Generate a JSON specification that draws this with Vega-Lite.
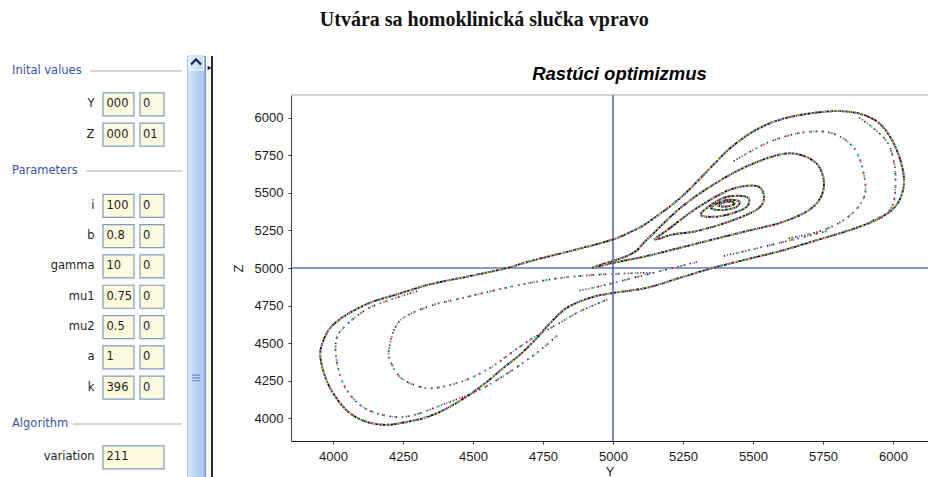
{
  "$schema": "https://vega.github.io/schema/vega-lite/v6.json",
  "background": "white",
  "padding": {"left": 0, "top": 10, "right": 0, "bottom": 0},
  "title": {"text": "Utvára sa homoklinická slučka vpravo", "font": "Liberation Serif", "fontSize": 20, "fontWeight": "bold", "color": "#111111", "anchor": "middle", "frame": "bounds", "dx": 20, "offset": 25},
  "bounds": "flush",
  "spacing": 77,
  "config": {"view": {"stroke": null}},
  "datasets": {
    "form": [
      {"kind": "header", "text": "Inital values", "line": 0},
      {"kind": "field", "label": "Y", "v1": "000", "v2": "0", "line": 1.1},
      {"kind": "field", "label": "Z", "v1": "000", "v2": "01", "line": 2.1},
      {"kind": "header", "text": "Parameters", "line": 3.3},
      {"kind": "field", "label": "i", "v1": "1000", "v2": "0", "line": 4.45},
      {"kind": "field", "label": "b", "v1": "0.8", "v2": "0", "line": 5.45},
      {"kind": "field", "label": "gamma", "v1": "10", "v2": "0", "line": 6.45},
      {"kind": "field", "label": "mu1", "v1": "0.75", "v2": "0", "line": 7.45},
      {"kind": "field", "label": "mu2", "v1": "0.5", "v2": "0", "line": 8.45},
      {"kind": "field", "label": "a", "v1": "1", "v2": "0", "line": 9.45},
      {"kind": "field", "label": "k", "v1": "396", "v2": "0", "line": 10.45},
      {"kind": "header", "text": "Algorithm", "line": 11.65},
      {"kind": "single", "label": "variation", "v1": "211", "line": 12.75}
    ],
    "traj": [
      {"curve": "outer", "i": 1, "Y": 5824, "Z": 6042},
      {"curve": "outer", "i": 2, "Y": 5908, "Z": 6009},
      {"curve": "outer", "i": 3, "Y": 5967, "Z": 5932},
      {"curve": "outer", "i": 4, "Y": 6015, "Z": 5777},
      {"curve": "outer", "i": 5, "Y": 6039, "Z": 5600},
      {"curve": "outer", "i": 6, "Y": 6027, "Z": 5467},
      {"curve": "outer", "i": 7, "Y": 5991, "Z": 5378},
      {"curve": "outer", "i": 8, "Y": 5931, "Z": 5312},
      {"curve": "outer", "i": 9, "Y": 5836, "Z": 5246},
      {"curve": "outer", "i": 10, "Y": 5717, "Z": 5179},
      {"curve": "outer", "i": 11, "Y": 5598, "Z": 5113},
      {"curve": "outer", "i": 12, "Y": 5479, "Z": 5058},
      {"curve": "outer", "i": 13, "Y": 5360, "Z": 5002},
      {"curve": "outer", "i": 14, "Y": 5241, "Z": 4936},
      {"curve": "outer", "i": 15, "Y": 5122, "Z": 4869},
      {"curve": "outer", "i": 16, "Y": 5000, "Z": 4834},
      {"curve": "outer", "i": 17, "Y": 4920, "Z": 4803},
      {"curve": "outer", "i": 18, "Y": 4836, "Z": 4736},
      {"curve": "outer", "i": 19, "Y": 4777, "Z": 4637},
      {"curve": "outer", "i": 20, "Y": 4729, "Z": 4537},
      {"curve": "outer", "i": 21, "Y": 4670, "Z": 4427},
      {"curve": "outer", "i": 22, "Y": 4610, "Z": 4338},
      {"curve": "outer", "i": 23, "Y": 4539, "Z": 4228},
      {"curve": "outer", "i": 24, "Y": 4444, "Z": 4106},
      {"curve": "outer", "i": 25, "Y": 4348, "Z": 4017},
      {"curve": "outer", "i": 26, "Y": 4253, "Z": 3973},
      {"curve": "outer", "i": 27, "Y": 4181, "Z": 3958},
      {"curve": "outer", "i": 28, "Y": 4110, "Z": 3984},
      {"curve": "outer", "i": 29, "Y": 4051, "Z": 4050},
      {"curve": "outer", "i": 30, "Y": 4003, "Z": 4161},
      {"curve": "outer", "i": 31, "Y": 3973, "Z": 4272},
      {"curve": "outer", "i": 32, "Y": 3955, "Z": 4404},
      {"curve": "outer", "i": 33, "Y": 3961, "Z": 4493},
      {"curve": "outer", "i": 34, "Y": 3991, "Z": 4604},
      {"curve": "outer", "i": 35, "Y": 4051, "Z": 4692},
      {"curve": "outer", "i": 36, "Y": 4134, "Z": 4770},
      {"curve": "outer", "i": 37, "Y": 4229, "Z": 4825},
      {"curve": "outer", "i": 38, "Y": 4348, "Z": 4892},
      {"curve": "outer", "i": 39, "Y": 4491, "Z": 4947},
      {"curve": "outer", "i": 40, "Y": 4622, "Z": 5000},
      {"curve": "outer", "i": 41, "Y": 4705, "Z": 5046},
      {"curve": "outer", "i": 42, "Y": 4884, "Z": 5130},
      {"curve": "outer", "i": 43, "Y": 5000, "Z": 5190},
      {"curve": "outer", "i": 44, "Y": 5063, "Z": 5240},
      {"curve": "outer", "i": 45, "Y": 5122, "Z": 5300},
      {"curve": "outer", "i": 46, "Y": 5241, "Z": 5467},
      {"curve": "outer", "i": 47, "Y": 5360, "Z": 5689},
      {"curve": "outer", "i": 48, "Y": 5420, "Z": 5799},
      {"curve": "outer", "i": 49, "Y": 5503, "Z": 5910},
      {"curve": "outer", "i": 50, "Y": 5598, "Z": 5987},
      {"curve": "outer", "i": 51, "Y": 5717, "Z": 6031},
      {"curve": "mid", "i": 1, "Y": 4930, "Z": 5005},
      {"curve": "mid", "i": 2, "Y": 5063, "Z": 5091},
      {"curve": "mid", "i": 3, "Y": 5122, "Z": 5190},
      {"curve": "mid", "i": 4, "Y": 5241, "Z": 5400},
      {"curve": "mid", "i": 5, "Y": 5360, "Z": 5556},
      {"curve": "mid", "i": 6, "Y": 5479, "Z": 5677},
      {"curve": "mid", "i": 7, "Y": 5598, "Z": 5755},
      {"curve": "mid", "i": 8, "Y": 5670, "Z": 5752},
      {"curve": "mid", "i": 9, "Y": 5729, "Z": 5690},
      {"curve": "mid", "i": 10, "Y": 5753, "Z": 5578},
      {"curve": "mid", "i": 11, "Y": 5741, "Z": 5467},
      {"curve": "mid", "i": 12, "Y": 5694, "Z": 5378},
      {"curve": "mid", "i": 13, "Y": 5598, "Z": 5301},
      {"curve": "mid", "i": 14, "Y": 5479, "Z": 5246},
      {"curve": "mid", "i": 15, "Y": 5360, "Z": 5191},
      {"curve": "mid", "i": 16, "Y": 5241, "Z": 5135},
      {"curve": "mid", "i": 17, "Y": 5122, "Z": 5080},
      {"curve": "mid", "i": 18, "Y": 5003, "Z": 5035},
      {"curve": "inner", "i": 1, "Y": 5150, "Z": 5190},
      {"curve": "inner", "i": 2, "Y": 5205, "Z": 5268},
      {"curve": "inner", "i": 3, "Y": 5301, "Z": 5400},
      {"curve": "inner", "i": 4, "Y": 5420, "Z": 5522},
      {"curve": "inner", "i": 5, "Y": 5515, "Z": 5544},
      {"curve": "inner", "i": 6, "Y": 5539, "Z": 5467},
      {"curve": "inner", "i": 7, "Y": 5515, "Z": 5390},
      {"curve": "inner", "i": 8, "Y": 5420, "Z": 5312},
      {"curve": "inner", "i": 9, "Y": 5301, "Z": 5246},
      {"curve": "inner", "i": 10, "Y": 5217, "Z": 5224},
      {"curve": "core1", "i": 1, "Y": 5313, "Z": 5357},
      {"curve": "core1", "i": 2, "Y": 5396, "Z": 5467},
      {"curve": "core1", "i": 3, "Y": 5479, "Z": 5471},
      {"curve": "core1", "i": 4, "Y": 5473, "Z": 5400},
      {"curve": "core1", "i": 5, "Y": 5384, "Z": 5345},
      {"curve": "core2", "i": 1, "Y": 5350, "Z": 5400},
      {"curve": "core2", "i": 2, "Y": 5400, "Z": 5450},
      {"curve": "core2", "i": 3, "Y": 5450, "Z": 5445},
      {"curve": "core2", "i": 4, "Y": 5440, "Z": 5405},
      {"curve": "core2", "i": 5, "Y": 5390, "Z": 5385},
      {"curve": "core3", "i": 1, "Y": 5375, "Z": 5418},
      {"curve": "core3", "i": 2, "Y": 5410, "Z": 5442},
      {"curve": "core3", "i": 3, "Y": 5435, "Z": 5428},
      {"curve": "core3", "i": 4, "Y": 5405, "Z": 5408},
      {"curve": "sA", "i": 1, "Y": 5134, "Z": 4969},
      {"curve": "sA", "i": 2, "Y": 4900, "Z": 4950},
      {"curve": "sA", "i": 3, "Y": 4705, "Z": 4902},
      {"curve": "sA", "i": 4, "Y": 4467, "Z": 4803},
      {"curve": "sA", "i": 5, "Y": 4348, "Z": 4748},
      {"curve": "sA", "i": 6, "Y": 4253, "Z": 4670},
      {"curve": "sA", "i": 7, "Y": 4217, "Z": 4582},
      {"curve": "sA", "i": 8, "Y": 4199, "Z": 4449},
      {"curve": "sA", "i": 9, "Y": 4205, "Z": 4382},
      {"curve": "sA", "i": 10, "Y": 4241, "Z": 4272},
      {"curve": "sA", "i": 11, "Y": 4301, "Z": 4216},
      {"curve": "sA", "i": 12, "Y": 4360, "Z": 4201},
      {"curve": "sA", "i": 13, "Y": 4467, "Z": 4250},
      {"curve": "sA", "i": 14, "Y": 4563, "Z": 4338},
      {"curve": "sA", "i": 15, "Y": 4646, "Z": 4449},
      {"curve": "sA", "i": 16, "Y": 4717, "Z": 4537},
      {"curve": "sA", "i": 17, "Y": 4801, "Z": 4626},
      {"curve": "sA", "i": 18, "Y": 4884, "Z": 4714},
      {"curve": "sA", "i": 19, "Y": 4980, "Z": 4790},
      {"curve": "sC", "i": 1, "Y": 4300, "Z": 4845},
      {"curve": "sC", "i": 2, "Y": 4193, "Z": 4781},
      {"curve": "sC", "i": 3, "Y": 4110, "Z": 4714},
      {"curve": "sC", "i": 4, "Y": 4027, "Z": 4582},
      {"curve": "sC", "i": 5, "Y": 4009, "Z": 4471},
      {"curve": "sC", "i": 6, "Y": 4021, "Z": 4316},
      {"curve": "sC", "i": 7, "Y": 4051, "Z": 4183},
      {"curve": "sC", "i": 8, "Y": 4110, "Z": 4072},
      {"curve": "sC", "i": 9, "Y": 4193, "Z": 4017},
      {"curve": "sC", "i": 10, "Y": 4277, "Z": 4017},
      {"curve": "sC", "i": 11, "Y": 4396, "Z": 4095},
      {"curve": "sC", "i": 12, "Y": 4539, "Z": 4205},
      {"curve": "sC", "i": 13, "Y": 4705, "Z": 4404},
      {"curve": "sC", "i": 14, "Y": 4800, "Z": 4550},
      {"curve": "sD", "i": 1, "Y": 5431, "Z": 5710},
      {"curve": "sD", "i": 2, "Y": 5551, "Z": 5832},
      {"curve": "sD", "i": 3, "Y": 5670, "Z": 5898},
      {"curve": "sD", "i": 4, "Y": 5777, "Z": 5898},
      {"curve": "sD", "i": 5, "Y": 5860, "Z": 5799},
      {"curve": "sD", "i": 6, "Y": 5896, "Z": 5622},
      {"curve": "sD", "i": 7, "Y": 5896, "Z": 5467},
      {"curve": "sD", "i": 8, "Y": 5836, "Z": 5334},
      {"curve": "sD", "i": 9, "Y": 5741, "Z": 5246},
      {"curve": "sD", "i": 10, "Y": 5620, "Z": 5195},
      {"curve": "sE", "i": 1, "Y": 5880, "Z": 6000},
      {"curve": "sE", "i": 2, "Y": 5973, "Z": 5854},
      {"curve": "sE", "i": 3, "Y": 6003, "Z": 5710},
      {"curve": "sE", "i": 4, "Y": 6009, "Z": 5578},
      {"curve": "sE", "i": 5, "Y": 6003, "Z": 5445},
      {"curve": "sE", "i": 6, "Y": 5979, "Z": 5367},
      {"curve": "sE", "i": 7, "Y": 5920, "Z": 5310},
      {"curve": "sF", "i": 1, "Y": 5396, "Z": 5080},
      {"curve": "sF", "i": 2, "Y": 5598, "Z": 5168},
      {"curve": "sF", "i": 3, "Y": 5765, "Z": 5246},
      {"curve": "sG", "i": 1, "Y": 4880, "Z": 4850},
      {"curve": "sG", "i": 2, "Y": 4955, "Z": 4880},
      {"curve": "sG", "i": 3, "Y": 5170, "Z": 4980},
      {"curve": "sG", "i": 4, "Y": 5300, "Z": 5040}
    ]
  },
  "hconcat": [
    {
      "width": 214,
      "height": 346,
      "data": {"name": "form"},
      "layer": [
        {"data": {"values": [{"part": "background"}]}, "mark": {"type": "rect", "fill": "white"},
         "encoding": {"x": {"datum": 0, "type": "quantitative", "scale": {"domain": [0, 214], "nice": false, "zero": false}, "axis": null}, "x2": {"datum": 187},
                      "y": {"datum": -0.5, "type": "quantitative", "scale": {"domain": [0.792, 12.211], "reverse": true, "nice": false, "zero": false}, "axis": null}, "y2": {"datum": 13.43}}},
        {"data": {"values": [{"part": "scrollbar"}]}, "mark": {"type": "rect", "fill": {"gradient": "linear", "x1": 0, "y1": 0, "x2": 1, "y2": 0, "stops": [{"offset": 0, "color": "#d8e7fb"}, {"offset": 0.45, "color": "#bdd5f5"}, {"offset": 1, "color": "#a9c6ef"}]}, "stroke": "#a6c2ec", "strokeWidth": 1},
         "encoding": {"x": {"datum": 187.5, "type": "quantitative", "scale": {"domain": [0, 214], "nice": false, "zero": false}, "axis": null}, "x2": {"datum": 204.5},
                      "y": {"datum": -0.495, "type": "quantitative", "scale": {"domain": [0.792, 12.211], "reverse": true, "nice": false, "zero": false}, "axis": null}, "y2": {"datum": 13.45}}},
        {"data": {"values": [{"part": "scroll button"}]}, "mark": {"type": "rect", "fill": {"gradient": "linear", "x1": 0, "y1": 0, "x2": 1, "y2": 0, "stops": [{"offset": 0, "color": "#e6effc"}, {"offset": 1, "color": "#c0d7f5"}]}, "stroke": "#f4f8fe", "strokeWidth": 1},
         "encoding": {"x": {"datum": 188.5, "type": "quantitative", "scale": {"domain": [0, 214], "nice": false, "zero": false}, "axis": null}, "x2": {"datum": 203.5},
                      "y": {"datum": -0.46, "type": "quantitative", "scale": {"domain": [0.792, 12.211], "reverse": true, "nice": false, "zero": false}, "axis": null}, "y2": {"datum": -0.03}}},
        {"data": {"values": [{"part": "up arrow"}]}, "mark": {"type": "point", "shape": "M-1,0.5L0,-0.5L1,0.5", "size": 100, "filled": false, "stroke": "#1b2b50", "strokeWidth": 2.2, "opacity": 1},
         "encoding": {"x": {"datum": 196, "type": "quantitative", "scale": {"domain": [0, 214], "nice": false, "zero": false}, "axis": null},
                      "y": {"datum": -0.3, "type": "quantitative", "scale": {"domain": [0.792, 12.211], "reverse": true, "nice": false, "zero": false}, "axis": null}}},
        {"data": {"values": [{"part": "grip"}]}, "mark": {"type": "point", "shape": "M-1,-0.7H1M-1,0H1M-1,0.7H1", "size": 64, "filled": false, "stroke": "#6a8bc8", "strokeWidth": 1.2, "opacity": 1},
         "encoding": {"x": {"datum": 196, "type": "quantitative", "scale": {"domain": [0, 214], "nice": false, "zero": false}, "axis": null},
                      "y": {"datum": 10.13, "type": "quantitative", "scale": {"domain": [0.792, 12.211], "reverse": true, "nice": false, "zero": false}, "axis": null}}},
        {"data": {"values": [{"part": "edge"}]}, "mark": {"type": "rule", "color": "#6b93d6", "strokeWidth": 1.5},
         "encoding": {"x": {"datum": 205.5, "type": "quantitative", "scale": {"domain": [0, 214], "nice": false, "zero": false}, "axis": null},
                      "y": {"datum": -0.495, "type": "quantitative", "scale": {"domain": [0.792, 12.211], "reverse": true, "nice": false, "zero": false}, "axis": null}, "y2": {"datum": 13.45}}},
        {"data": {"values": [{"part": "splitter"}]}, "mark": {"type": "rect", "fill": "#fbf8e4"},
         "encoding": {"x": {"datum": 206.3, "type": "quantitative", "scale": {"domain": [0, 214], "nice": false, "zero": false}, "axis": null}, "x2": {"datum": 210.8},
                      "y": {"datum": -0.495, "type": "quantitative", "scale": {"domain": [0.792, 12.211], "reverse": true, "nice": false, "zero": false}, "axis": null}, "y2": {"datum": 13.45}}},
        {"data": {"values": [{"part": "border"}]}, "mark": {"type": "rule", "color": "#1e2b48", "strokeWidth": 2},
         "encoding": {"x": {"datum": 212, "type": "quantitative", "scale": {"domain": [0, 214], "nice": false, "zero": false}, "axis": null},
                      "y": {"datum": -0.495, "type": "quantitative", "scale": {"domain": [0.792, 12.211], "reverse": true, "nice": false, "zero": false}, "axis": null}, "y2": {"datum": 13.45}}},
        {"data": {"values": [{"part": "splitter arrow"}]}, "mark": {"type": "point", "shape": "triangle-right", "size": 18, "filled": true, "color": "#111111", "opacity": 1},
         "encoding": {"x": {"datum": 209.5, "type": "quantitative", "scale": {"domain": [0, 214], "nice": false, "zero": false}, "axis": null},
                      "y": {"datum": -0.1, "type": "quantitative", "scale": {"domain": [0.792, 12.211], "reverse": true, "nice": false, "zero": false}, "axis": null}}},
        {"transform": [{"filter": "datum.kind === 'header'"}], "mark": {"type": "text", "align": "left", "baseline": "middle", "font": "DejaVu Sans", "fontSize": 11.5, "color": "#3b53a6"},
         "encoding": {"x": {"datum": 12, "type": "quantitative", "scale": {"domain": [0, 214], "nice": false, "zero": false}, "axis": null},
                      "y": {"field": "line", "type": "quantitative", "scale": {"domain": [0.792, 12.211], "reverse": true, "nice": false, "zero": false}, "axis": null}, "text": {"field": "text"}}},
        {"transform": [{"filter": "datum.text === 'Inital values'"}], "mark": {"type": "rule", "color": "#aca899", "strokeWidth": 1},
         "encoding": {"x": {"datum": 90, "type": "quantitative", "scale": {"domain": [0, 214], "nice": false, "zero": false}, "axis": null}, "x2": {"datum": 182},
                      "y": {"field": "line", "type": "quantitative", "scale": {"domain": [0.792, 12.211], "reverse": true, "nice": false, "zero": false}, "axis": null}}},
        {"transform": [{"filter": "datum.text === 'Parameters'"}], "mark": {"type": "rule", "color": "#aca899", "strokeWidth": 1},
         "encoding": {"x": {"datum": 86, "type": "quantitative", "scale": {"domain": [0, 214], "nice": false, "zero": false}, "axis": null}, "x2": {"datum": 182},
                      "y": {"field": "line", "type": "quantitative", "scale": {"domain": [0.792, 12.211], "reverse": true, "nice": false, "zero": false}, "axis": null}}},
        {"transform": [{"filter": "datum.text === 'Algorithm'"}], "mark": {"type": "rule", "color": "#aca899", "strokeWidth": 1},
         "encoding": {"x": {"datum": 73, "type": "quantitative", "scale": {"domain": [0, 214], "nice": false, "zero": false}, "axis": null}, "x2": {"datum": 182},
                      "y": {"field": "line", "type": "quantitative", "scale": {"domain": [0.792, 12.211], "reverse": true, "nice": false, "zero": false}, "axis": null}}},
        {"transform": [{"filter": "datum.kind !== 'header'"}], "mark": {"type": "text", "align": "right", "baseline": "middle", "font": "DejaVu Sans", "fontSize": 11.5, "color": "#1e1e1e"},
         "encoding": {"x": {"datum": 94.5, "type": "quantitative", "scale": {"domain": [0, 214], "nice": false, "zero": false}, "axis": null},
                      "y": {"field": "line", "type": "quantitative", "scale": {"domain": [0.792, 12.211], "reverse": true, "nice": false, "zero": false}, "axis": null}, "text": {"field": "label"}}},
        {"transform": [{"filter": "datum.kind === 'field'"}], "mark": {"type": "rect", "fill": "#fcfadf", "stroke": "#7f9db9", "strokeWidth": 1.2, "yOffset": -11.5, "y2Offset": 11.5},
         "encoding": {"x": {"datum": 103, "type": "quantitative", "scale": {"domain": [0, 214], "nice": false, "zero": false}, "axis": null}, "x2": {"datum": 134},
                      "y": {"field": "line", "type": "quantitative", "scale": {"domain": [0.792, 12.211], "reverse": true, "nice": false, "zero": false}, "axis": null}, "y2": {"field": "line"}}},
        {"transform": [{"filter": "datum.kind === 'field'"}], "mark": {"type": "rect", "fill": "#fcfadf", "stroke": "#7f9db9", "strokeWidth": 1.2, "yOffset": -11.5, "y2Offset": 11.5},
         "encoding": {"x": {"datum": 140, "type": "quantitative", "scale": {"domain": [0, 214], "nice": false, "zero": false}, "axis": null}, "x2": {"datum": 164},
                      "y": {"field": "line", "type": "quantitative", "scale": {"domain": [0.792, 12.211], "reverse": true, "nice": false, "zero": false}, "axis": null}, "y2": {"field": "line"}}},
        {"transform": [{"filter": "datum.kind === 'single'"}], "mark": {"type": "rect", "fill": "#fcfadf", "stroke": "#7f9db9", "strokeWidth": 1.2, "yOffset": -11.5, "y2Offset": 11.5},
         "encoding": {"x": {"datum": 103, "type": "quantitative", "scale": {"domain": [0, 214], "nice": false, "zero": false}, "axis": null}, "x2": {"datum": 164},
                      "y": {"field": "line", "type": "quantitative", "scale": {"domain": [0.792, 12.211], "reverse": true, "nice": false, "zero": false}, "axis": null}, "y2": {"field": "line"}}},
        {"transform": [{"filter": "datum.kind !== 'header'"}], "mark": {"type": "text", "align": "left", "baseline": "middle", "font": "DejaVu Sans", "fontSize": 11.5, "color": "#1e1e1e", "limit": 27, "ellipsis": "\u200b"},
         "encoding": {"x": {"datum": 106.5, "type": "quantitative", "scale": {"domain": [0, 214], "nice": false, "zero": false}, "axis": null},
                      "y": {"field": "line", "type": "quantitative", "scale": {"domain": [0.792, 12.211], "reverse": true, "nice": false, "zero": false}, "axis": null}, "text": {"field": "v1"}}},
        {"transform": [{"filter": "datum.kind === 'field'"}], "mark": {"type": "text", "align": "left", "baseline": "middle", "font": "DejaVu Sans", "fontSize": 11.5, "color": "#1e1e1e"},
         "encoding": {"x": {"datum": 143, "type": "quantitative", "scale": {"domain": [0, 214], "nice": false, "zero": false}, "axis": null},
                      "y": {"field": "line", "type": "quantitative", "scale": {"domain": [0.792, 12.211], "reverse": true, "nice": false, "zero": false}, "axis": null}, "text": {"field": "v2"}}}
      ]
    },
    {
      "width": 637,
      "height": 346,
      "title": {"text": "Rastúci optimizmus", "font": "Liberation Sans", "fontSize": 18.5, "fontWeight": "bold", "fontStyle": "italic", "color": "#000000", "anchor": "middle", "frame": "group", "dx": 10, "offset": 11},
      "data": {"name": "traj"},
      "layer": [
        {"data": {"values": [{"Y": 5000}]}, "mark": {"type": "rule", "color": "#1d32a0", "strokeWidth": 1.2},
         "encoding": {"x": {"field": "Y", "type": "quantitative", "scale": {"domain": [3850, 6125], "nice": false, "zero": false},
                 "axis": {"values": [4000, 4250, 4500, 4750, 5000, 5250, 5500, 5750, 6000], "format": "d", "title": "Y", "grid": false, "domainColor": "#222222", "tickColor": "#333333", "tickSize": 3, "labelFont": "Liberation Sans", "labelFontSize": 13, "labelColor": "#1a1a1a", "labelPadding": 6, "labelFlush": false, "labelOverlap": false, "titleFont": "Liberation Sans", "titleFontSize": 13, "titleFontWeight": "normal", "titleColor": "#1a1a1a", "titlePadding": 2}}}},
        {"data": {"values": [{"Z": 5000}]}, "mark": {"type": "rule", "color": "#1d32a0", "strokeWidth": 1.2},
         "encoding": {"y": {"field": "Z", "type": "quantitative", "scale": {"domain": [3850, 6150], "nice": false, "zero": false},
                 "axis": {"values": [4000, 4250, 4500, 4750, 5000, 5250, 5500, 5750, 6000], "format": "d", "title": "Z", "grid": false, "domainColor": "#444444", "tickColor": "#333333", "tickSize": 3, "labelFont": "Liberation Sans", "labelFontSize": 13, "labelColor": "#1a1a1a", "labelPadding": 5, "labelFlush": false, "labelOverlap": false, "titleFont": "Liberation Sans", "titleFontSize": 13, "titleFontWeight": "normal", "titleColor": "#1a1a1a", "titlePadding": 9}}}},
        {"data": {"values": [{"Z": 6150}]}, "mark": {"type": "rule", "color": "#a8a8a8", "strokeWidth": 1},
         "encoding": {"y": {"field": "Z", "type": "quantitative", "scale": {"domain": [3850, 6150], "nice": false, "zero": false}}}},
        {"transform": [{"filter": {"field": "curve", "oneOf": ["outer", "mid", "inner", "core1", "core2", "core3"]}}],
         "mark": {"type": "line", "interpolate": "cardinal-closed", "color": "#111111", "strokeWidth": 1.8, "strokeDash": [3, 0.8]},
         "encoding": {"x": {"field": "Y", "type": "quantitative", "scale": {"domain": [3850, 6125], "nice": false, "zero": false}}, "y": {"field": "Z", "type": "quantitative", "scale": {"domain": [3850, 6150], "nice": false, "zero": false}}, "detail": {"field": "curve"}, "order": {"field": "i", "type": "quantitative"}}},
        {"transform": [{"filter": {"field": "curve", "oneOf": ["outer", "mid", "inner", "core1", "core2", "core3"]}}],
         "mark": {"type": "line", "interpolate": "cardinal-closed", "color": "#e8262b", "strokeWidth": 2, "strokeDash": [1.2, 5]},
         "encoding": {"x": {"field": "Y", "type": "quantitative", "scale": {"domain": [3850, 6125], "nice": false, "zero": false}}, "y": {"field": "Z", "type": "quantitative", "scale": {"domain": [3850, 6150], "nice": false, "zero": false}}, "detail": {"field": "curve"}, "order": {"field": "i", "type": "quantitative"}}},
        {"transform": [{"filter": {"field": "curve", "oneOf": ["outer", "mid", "inner", "core1", "core2", "core3"]}}],
         "mark": {"type": "line", "interpolate": "cardinal-closed", "color": "#33c233", "strokeWidth": 2, "strokeDash": [1.2, 8], "strokeDashOffset": 3},
         "encoding": {"x": {"field": "Y", "type": "quantitative", "scale": {"domain": [3850, 6125], "nice": false, "zero": false}}, "y": {"field": "Z", "type": "quantitative", "scale": {"domain": [3850, 6150], "nice": false, "zero": false}}, "detail": {"field": "curve"}, "order": {"field": "i", "type": "quantitative"}}},
        {"transform": [{"filter": {"field": "curve", "oneOf": ["outer", "mid", "inner", "core1", "core2", "core3"]}}],
         "mark": {"type": "line", "interpolate": "cardinal-closed", "color": "#2cc8dc", "strokeWidth": 2, "strokeDash": [1.2, 7], "strokeDashOffset": 5},
         "encoding": {"x": {"field": "Y", "type": "quantitative", "scale": {"domain": [3850, 6125], "nice": false, "zero": false}}, "y": {"field": "Z", "type": "quantitative", "scale": {"domain": [3850, 6150], "nice": false, "zero": false}}, "detail": {"field": "curve"}, "order": {"field": "i", "type": "quantitative"}}},
        {"transform": [{"filter": {"field": "curve", "oneOf": ["outer", "mid", "inner", "core1", "core2", "core3"]}}],
         "mark": {"type": "line", "interpolate": "cardinal-closed", "color": "#d24fd4", "strokeWidth": 2, "strokeDash": [1.2, 10], "strokeDashOffset": 8},
         "encoding": {"x": {"field": "Y", "type": "quantitative", "scale": {"domain": [3850, 6125], "nice": false, "zero": false}}, "y": {"field": "Z", "type": "quantitative", "scale": {"domain": [3850, 6150], "nice": false, "zero": false}}, "detail": {"field": "curve"}, "order": {"field": "i", "type": "quantitative"}}},
        {"transform": [{"filter": {"field": "curve", "oneOf": ["outer", "mid", "inner", "core1", "core2", "core3"]}}],
         "mark": {"type": "line", "interpolate": "cardinal-closed", "color": "#e9dc2a", "strokeWidth": 2, "strokeDash": [1.2, 12], "strokeDashOffset": 2},
         "encoding": {"x": {"field": "Y", "type": "quantitative", "scale": {"domain": [3850, 6125], "nice": false, "zero": false}}, "y": {"field": "Z", "type": "quantitative", "scale": {"domain": [3850, 6150], "nice": false, "zero": false}}, "detail": {"field": "curve"}, "order": {"field": "i", "type": "quantitative"}}},
        {"transform": [{"filter": {"field": "curve", "oneOf": ["sA", "sC", "sD", "sE", "sF", "sG"]}}],
         "mark": {"type": "line", "interpolate": "cardinal", "color": "#1a1a1a", "strokeWidth": 1.6, "strokeDash": [1.3, 5]},
         "encoding": {"x": {"field": "Y", "type": "quantitative", "scale": {"domain": [3850, 6125], "nice": false, "zero": false}}, "y": {"field": "Z", "type": "quantitative", "scale": {"domain": [3850, 6150], "nice": false, "zero": false}}, "detail": {"field": "curve"}, "order": {"field": "i", "type": "quantitative"}}},
        {"transform": [{"filter": {"field": "curve", "oneOf": ["sA", "sC", "sD", "sE", "sF", "sG"]}}],
         "mark": {"type": "line", "interpolate": "cardinal", "color": "#e8262b", "strokeWidth": 1.7, "strokeDash": [1.3, 11], "strokeDashOffset": 3},
         "encoding": {"x": {"field": "Y", "type": "quantitative", "scale": {"domain": [3850, 6125], "nice": false, "zero": false}}, "y": {"field": "Z", "type": "quantitative", "scale": {"domain": [3850, 6150], "nice": false, "zero": false}}, "detail": {"field": "curve"}, "order": {"field": "i", "type": "quantitative"}}},
        {"transform": [{"filter": {"field": "curve", "oneOf": ["sA", "sC", "sD", "sE", "sF", "sG"]}}],
         "mark": {"type": "line", "interpolate": "cardinal", "color": "#2cc8dc", "strokeWidth": 1.7, "strokeDash": [1.3, 10], "strokeDashOffset": 8},
         "encoding": {"x": {"field": "Y", "type": "quantitative", "scale": {"domain": [3850, 6125], "nice": false, "zero": false}}, "y": {"field": "Z", "type": "quantitative", "scale": {"domain": [3850, 6150], "nice": false, "zero": false}}, "detail": {"field": "curve"}, "order": {"field": "i", "type": "quantitative"}}},
        {"transform": [{"filter": {"field": "curve", "oneOf": ["sA", "sC", "sD", "sE", "sF", "sG"]}}],
         "mark": {"type": "line", "interpolate": "cardinal", "color": "#d24fd4", "strokeWidth": 1.7, "strokeDash": [1.3, 13], "strokeDashOffset": 11},
         "encoding": {"x": {"field": "Y", "type": "quantitative", "scale": {"domain": [3850, 6125], "nice": false, "zero": false}}, "y": {"field": "Z", "type": "quantitative", "scale": {"domain": [3850, 6150], "nice": false, "zero": false}}, "detail": {"field": "curve"}, "order": {"field": "i", "type": "quantitative"}}},
        {"transform": [{"filter": {"field": "curve", "oneOf": ["sA", "sC", "sD", "sE", "sF", "sG"]}}],
         "mark": {"type": "line", "interpolate": "cardinal", "color": "#33c233", "strokeWidth": 1.7, "strokeDash": [1.3, 17], "strokeDashOffset": 6},
         "encoding": {"x": {"field": "Y", "type": "quantitative", "scale": {"domain": [3850, 6125], "nice": false, "zero": false}}, "y": {"field": "Z", "type": "quantitative", "scale": {"domain": [3850, 6150], "nice": false, "zero": false}}, "detail": {"field": "curve"}, "order": {"field": "i", "type": "quantitative"}}}
      ]
    }
  ]
}
